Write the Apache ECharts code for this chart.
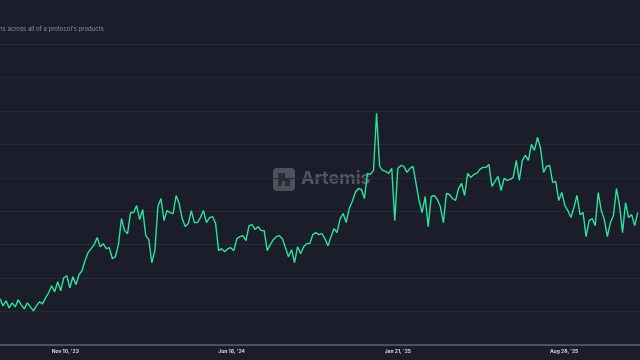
<!DOCTYPE html>
<html>
<head>
<meta charset="utf-8">
<script src="https://cdn.jsdelivr.net/npm/echarts@6/dist/echarts.min.js"></script>
<style>
html,body{margin:0;padding:0;background:#1b1e2a;}
#c{width:640px;height:360px;}
</style>
</head>
<body>
<div id="c"></div>
<script>
// Data: one reading every 4 days, starting 2023-08-16
const startDate = '2023-08-16';
const stepDays = 4;
const values = [
1.38,1.17,1.32,1.11,1.26,1.14,1.35,1.20,1.08,1.26,
1.14,1.02,1.17,1.29,1.23,1.41,1.56,1.77,1.59,1.89,
1.62,2.01,2.07,1.71,2.04,1.80,2.10,2.22,2.52,2.76,
2.88,3.00,3.21,2.94,3.03,2.88,2.91,2.58,2.64,3.00,
3.78,3.42,3.33,3.96,3.96,4.17,3.75,4.05,3.27,3.15,
2.46,2.82,4.14,4.38,3.72,4.02,3.96,3.93,4.47,4.23,
3.78,3.54,3.63,4.02,3.66,3.66,3.81,4.02,3.66,3.81,
3.84,3.63,2.82,2.88,2.79,2.88,2.91,2.82,3.18,3.24,
3.27,3.12,3.57,3.60,3.45,3.54,3.42,3.42,2.82,3.00,
3.15,3.24,3.27,3.18,2.91,2.64,2.85,2.46,2.94,2.73,
2.94,3.03,3.03,3.30,3.36,3.30,3.33,3.18,2.97,3.24,
3.48,3.36,3.78,3.93,3.66,4.08,4.29,4.56,4.68,4.65,
4.38,5.13,5.10,5.22,6.93,5.34,5.22,5.19,5.13,5.28,
3.72,5.28,5.37,5.34,5.16,5.28,5.34,4.83,4.32,3.96,
4.44,3.54,4.44,4.47,4.35,4.14,3.66,4.53,4.50,4.38,
4.32,4.68,4.83,4.47,5.13,5.01,5.10,5.13,5.25,5.31,
5.31,5.40,4.74,4.89,5.04,4.62,4.98,4.92,4.95,5.01,
5.52,4.92,5.52,5.67,5.52,6.00,5.82,6.21,5.88,5.16,
5.34,5.37,4.86,4.89,4.32,4.56,4.17,4.02,3.81,4.11,
4.47,3.90,3.96,3.24,3.72,3.78,3.57,4.56,4.02,3.75,
3.24,3.66,3.87,4.68,4.17,3.36,4.26,3.81,3.90,3.57,
3.96
];
const tickDates = ['2023-11-10','2024-06-16','2025-01-21','2025-08-28'];
const axisStart = '2023-08-16';
const axisEnd = '2025-12-06';
const subtitle = "ns across all of a protocol's products";
const watermark = 'Artemis';

const DAY = 86400000;
const toTs = d => Date.parse(d + 'T00:00:00Z');
const base = toTs(axisStart);
const dayOf = d => Math.round((toTs(d) - base) / DAY);
const s0 = dayOf(startDate);
const seriesData = values.map((v, i) => [s0 + i * stepDays, v]);
const tickDays = tickDates.map(dayOf);
const MONTHS = ['Jan','Feb','Mar','Apr','May','Jun','Jul','Aug','Sep','Oct','Nov','Dec'];
function fmt(day){
  const d = new Date(base + day * DAY);
  return MONTHS[d.getUTCMonth()] + ' ' + d.getUTCDate() + ", '" + String(d.getUTCFullYear()).slice(2);
}

const chart = echarts.init(document.getElementById('c'), null, {renderer:'canvas'});
chart.setOption({
  backgroundColor: '#1b1e2a',
  animation: false,
  title: {
    text: subtitle,
    left: -1, top: 26, padding: 0,
    textStyle: {color:'#8e909a', fontSize: 6, fontWeight: 'normal', fontFamily: 'Inter, sans-serif'}
  },
  grid: {left: 0, right: 0, top: 44, bottom: 15, containLabel: false},
  xAxis: {
    type: 'value',
    min: 0,
    max: dayOf(axisEnd),
    axisLine: {show: true, onZero: false, lineStyle: {color: '#5f626c', width: 1.5}},
    axisTick: {show: false},
    splitLine: {show: false},
    axisLabel: {
      customValues: tickDays,
      formatter: v => fmt(v),
      color: '#d4d6dc', fontSize: 5, fontWeight: 'bold', margin: 4,
      fontFamily: 'Inter, sans-serif'
    }
  },
  yAxis: {
    type: 'value', min: 0, max: 9, interval: 1,
    axisLine: {show: false}, axisTick: {show: false},
    axisLabel: {show: false},
    splitLine: {lineStyle: {color: '#262a37', width: 1}}
  },
  graphic: [
    {type:'rect', left: 273, top: 168, z: 0, shape:{width: 22, height: 23, r: 4},
     style:{fill:'rgba(120,122,132,0.55)'}},
    {type:'rect', left: 278, top: 173, z: 1, shape:{width: 7, height: 6}, style:{fill:'#2a2d38'}},
    {type:'rect', left: 278, top: 181, z: 1, shape:{width: 4, height: 5}, style:{fill:'#2a2d38'}},
    {type:'rect', left: 285, top: 179, z: 1, shape:{width: 5, height: 7}, style:{fill:'#2a2d38'}},
    {type:'rect', left: 278, top: 179, z: 1, shape:{width: 12, height: 2}, style:{fill:'#2a2d38'}},
    {type:'text', left: 301, top: 170, z: 0,
     style:{text: watermark, fill:'rgba(120,122,132,0.6)', font:'bold 18px Inter, sans-serif'}}
  ],
  series: [{
    type: 'line',
    data: seriesData,
    showSymbol: false,
    smooth: false,
    z: 5,
    lineStyle: {color: '#2ae39c', width: 1.4},
    itemStyle: {color: '#2ae39c'}
  }]
});
</script>
</body>
</html>
